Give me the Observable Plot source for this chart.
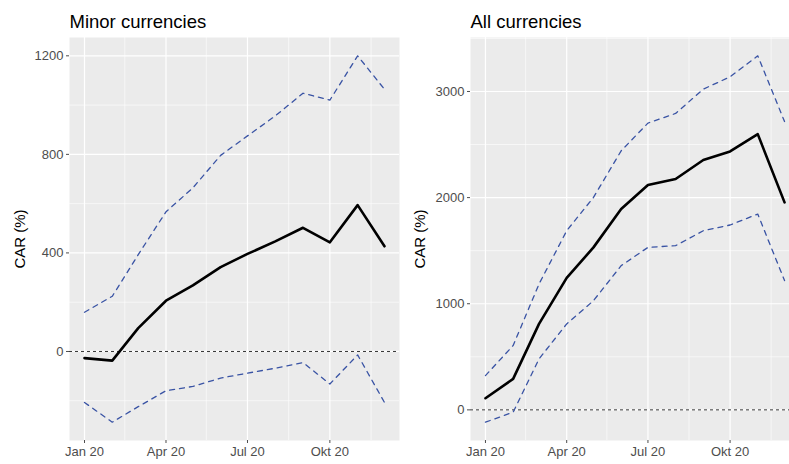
<!DOCTYPE html>
<html>
<head>
<meta charset="utf-8">
<script src="https://cdn.jsdelivr.net/npm/d3@7"></script>
<script src="https://cdn.jsdelivr.net/npm/@observablehq/plot@0.6"></script>
<style>
  body { margin: 0; background: #fff; }
  #charts { display: flex; width: 789px; height: 464px; overflow: hidden; }
  #charts svg { flex: none; }
</style>
</head>
<body>
<div id="charts"></div>
<script>
// meses (primer día de cada mes)
const months = ["2020-01-01","2020-02-01","2020-03-01","2020-04-01","2020-05-01","2020-06-01",
                "2020-07-01","2020-08-01","2020-09-01","2020-10-01","2020-11-01","2020-12-01"]

// Minor currencies
const minorCar   = [-27, -37, 95, 206, 268, 342, 396, 447, 502, 443, 594, 427]
const minorUpper = [159, 224, 393, 567, 664, 796, 875, 956, 1048, 1020, 1200, 1064]
const minorLower = [-207, -287, -224, -159, -142, -108, -88, -68, -45, -132, -14, -207]

// All currencies
const allCar   = [110, 292, 810, 1243, 1531, 1892, 2118, 2175, 2354, 2435, 2598, 1955]
const allUpper = [323, 606, 1186, 1688, 2002, 2441, 2702, 2793, 3022, 3138, 3336, 2717]
const allLower = [-116, -22, 480, 810, 1029, 1359, 1531, 1547, 1688, 1742, 1845, 1218]

// ticks
const xTicks = ["2020-01-01","2020-04-01","2020-07-01","2020-10-01"]
const xTickLabels = ["Jan 20","Apr 20","Jul 20","Okt 20"]
const xMinorTicks = ["2020-02-15","2020-05-16","2020-08-16","2020-11-16"]

const minorYTicks = [0, 400, 800, 1200]
const minorYMinor = [-200, 200, 600, 1000]
const allYTicks = [0, 1000, 2000, 3000]
const allYMinor = [500, 1500, 2500, 3500]

const parse = d3.utcParse('%Y-%m-%d')
const dates = months.map(parse)
const tickDates = xTicks.map(parse)
const labelPorFecha = new Map(tickDates.map((d, i) => [+d, xTickLabels[i]]))

/* expansion tipo ggplot: 5% a cada lado */
const expand = ext => {
  const pad = (ext[1] - ext[0]) * 0.05
  return [ext[0] - pad, ext[1] + pad]
}
const xExt = d3.extent(dates)
const xDomain = expand(xExt.map(Number)).map(t => new Date(t))

function panel(title, car, upper, lower, yTicks, yMinor, marginLeft) {
  const rows = dates.map((d, i) => ({fecha: d, car: car[i], upper: upper[i], lower: lower[i]}))
  const yDomain = expand(d3.extent([...car, ...upper, ...lower]))
  const inY = v => v >= yDomain[0] && v <= yDomain[1]

  return Plot.plot({
    width: 400,
    height: 464,
    marginLeft: marginLeft,
    marginRight: 1,
    marginTop: 37,
    marginBottom: 24,
    style: {fontFamily: '"Liberation Sans", Arial, sans-serif', fontSize: '13px', background: 'white'},
    x: {type: 'utc', domain: xDomain},
    y: {domain: yDomain},
    marks: [
      Plot.frame({fill: '#EBEBEB', stroke: null}),
      Plot.gridY(yMinor.filter(inY), {stroke: 'white', strokeOpacity: 1, strokeWidth: 0.6}),
      Plot.gridX(xMinorTicks.map(parse), {stroke: 'white', strokeOpacity: 1, strokeWidth: 0.6}),
      Plot.gridY(yTicks, {stroke: 'white', strokeOpacity: 1, strokeWidth: 1.2}),
      Plot.gridX(tickDates, {stroke: 'white', strokeOpacity: 1, strokeWidth: 1.2}),
      Plot.ruleY([0], {stroke: 'black', strokeWidth: 0.8, strokeDasharray: '3,3'}),
      Plot.line(rows, {x: 'fecha', y: 'upper', stroke: '#3953A4', strokeWidth: 1.3, strokeDasharray: '5,5'}),
      Plot.line(rows, {x: 'fecha', y: 'lower', stroke: '#3953A4', strokeWidth: 1.3, strokeDasharray: '5,5'}),
      Plot.line(rows, {x: 'fecha', y: 'car', stroke: 'black', strokeWidth: 2.6}),
      Plot.axisY({ticks: yTicks, tickFormat: d => String(d), tickSize: 3, tickPadding: 3, label: null,
                  color: '#4D4D4D', fontSize: 13}),
      Plot.axisX({ticks: tickDates, tickFormat: d => labelPorFecha.get(+d), tickSize: 3, tickPadding: 3,
                  label: null, color: '#4D4D4D', fontSize: 13}),
      Plot.text([title], {frameAnchor: 'top-left', textAnchor: 'start', lineAnchor: 'bottom', dy: -10,
                          fontSize: 18.5, fill: 'black'}),
      Plot.text(['CAR (%)'], {frameAnchor: 'left', rotate: -90, dx: -(marginLeft - 20),
                              textAnchor: 'middle', lineAnchor: 'middle', fontSize: 15, fill: 'black'})
    ]
  })
}

const chartMinor = panel('Minor currencies', minorCar, minorUpper, minorLower, minorYTicks, minorYMinor, 69)
const chartAll = panel('All currencies', allCar, allUpper, allLower, allYTicks, allYMinor, 70)

d3.select('#charts').append(() => chartMinor)
d3.select('#charts').append(() => chartAll)
</script>
</body>
</html>
